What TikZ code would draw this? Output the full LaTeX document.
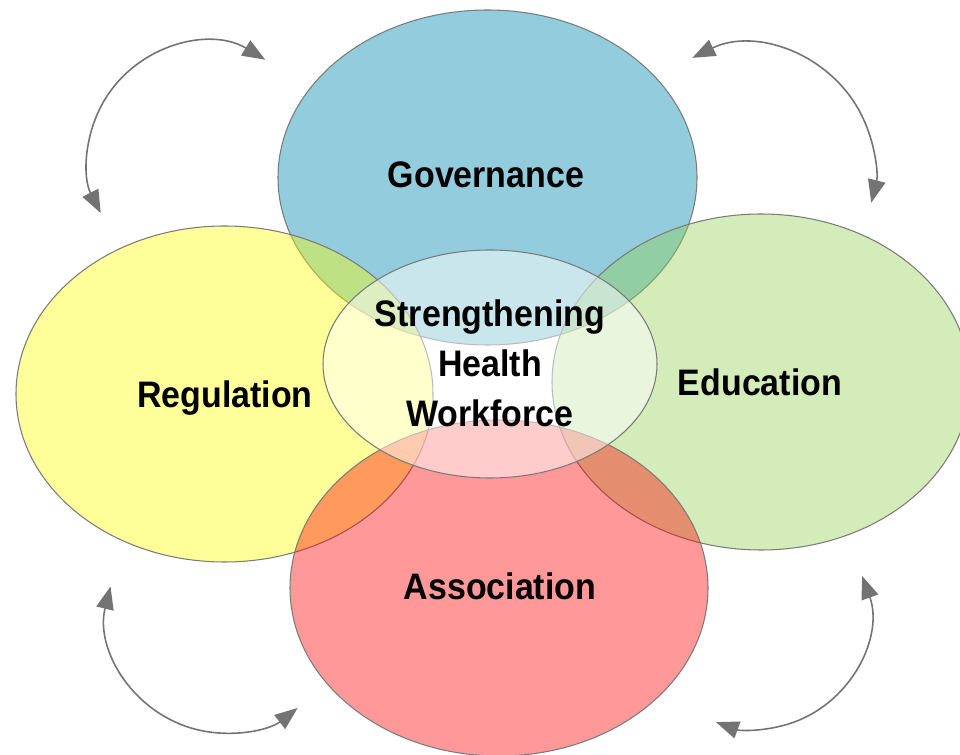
\documentclass[tikz,border=0pt]{standalone}
\usepackage{fontspec}
\newfontfamily\labelfont{Liberation Sans}[FakeStretch=0.92]
\usetikzlibrary{arrows.meta}
\definecolor{govblue}{HTML}{4BACC6}
\definecolor{regyellow}{HTML}{FFFF00}
\definecolor{edugreen}{HTML}{92D050}
\definecolor{assred}{HTML}{FF0000}
\definecolor{rimgray}{HTML}{7A7A7A}
\definecolor{arrgray}{HTML}{737373}
\begin{document}
\begin{tikzpicture}[x=0.02cm,y=0.02cm,
  pillar/.style={draw=rimgray,line width=0.6pt,fill=#1,fill opacity=0.4},
  hub/.style={draw=rimgray,line width=0.6pt,fill=white,fill opacity=0.5},
  swing/.style={draw=arrgray,line width=0.9pt,{Triangle[length=13pt,width=10pt]}-{Triangle[length=13pt,width=10pt]}},
  tag/.style={font=\labelfont\bfseries\fontsize{21}{28.5}\selectfont,anchor=base,align=center}]
\clip (0,0) rectangle (960,754);
% the four pillars, blue first so the others tint it
\draw[pillar=govblue,fill opacity=0.6] (487.5,576.5) ellipse [x radius=209.5,y radius=167.5];
\draw[pillar=edugreen] (761,372) ellipse [x radius=209,y radius=168];
\draw[pillar=regyellow] (224.5,360) ellipse [x radius=208.5,y radius=168];
\draw[pillar=assred] (499,166) ellipse [x radius=209,y radius=168];
\draw[hub] (490,390) ellipse [x radius=167,y radius=114];
\node[tag] (gov) at (486,566) {Governance};
\node[tag] (reg) at (225,346) {Regulation};
\node[tag] (edu) at (760,358) {Education};
\node[tag] (ass) at (500,154) {Association};
\node[tag] (hw) at (490,327) {Strengthening\\Health\\Workforce};
% feedback arrows in the corners
\coordinate (tl) at (205,594);
\coordinate (tr) at (748,582);
\coordinate (bl) at (225,139);
\coordinate (br) at (755,139);
\draw[swing] ([shift={(59:117)}]tl) arc[start angle=59,end angle=207,radius=117];
\draw[swing] ([shift={(116:127)}]tr) arc[start angle=116,end angle=-14,radius=127];
\draw[swing] ([shift={(166:118)}]bl) arc[start angle=166,end angle=308,radius=118];
\draw[swing] ([shift={(20:114)}]br) arc[start angle=20,end angle=-110,radius=114];
\end{tikzpicture}
\end{document}
